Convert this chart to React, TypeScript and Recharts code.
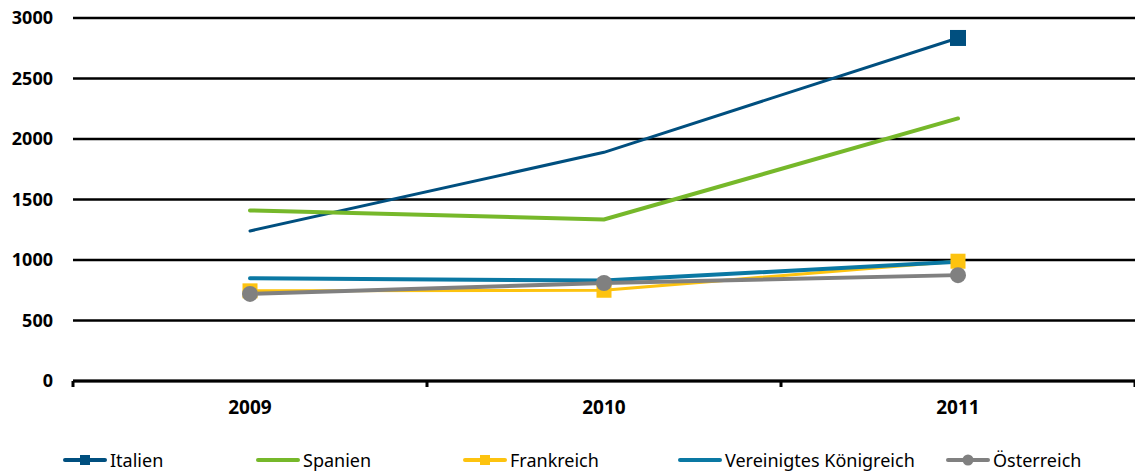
import React from 'react';
import { LineChart, Line, XAxis, YAxis, CartesianGrid, Legend } from 'recharts';

const years = ['2009', '2010', '2011'];
const italien = [1240, 1890, 2835];
const spanien = [1410, 1335, 2170];
const frankreich = [745, 750, 990];
const vereinigtesKoenigreich = [850, 830, 985];
const oesterreich = [720, 810, 875];
const yTicks = [0, 500, 1000, 1500, 2000, 2500, 3000];

const data = years.map((y, i) => ({
  pos: i + 0.5,
  year: y,
  italien: italien[i],
  spanien: spanien[i],
  frankreich: frankreich[i],
  vk: vereinigtesKoenigreich[i],
  oesterreich: oesterreich[i],
}));

const xTicks = [0, 0.5, 1, 1.5, 2, 2.5, 3];

const series = [
  { key: 'italien', name: 'Italien', color: '#004f7f', width: 3, marker: 'square', left: 63 },
  { key: 'spanien', name: 'Spanien', color: '#76b82a', width: 4, marker: 'none', left: 256 },
  { key: 'frankreich', name: 'Frankreich', color: '#fdc30f', width: 3, marker: 'square', left: 463 },
  { key: 'vk', name: 'Vereinigtes Königreich', color: '#0a78a3', width: 4, marker: 'none', left: 678 },
  { key: 'oesterreich', name: 'Österreich', color: '#808080', width: 4, marker: 'circle', left: 946 },
];

const font = "'Noto Sans', 'Open Sans', sans-serif";

const XTick = (props: any) => {
  const { x, y, payload } = props;
  const v = payload.value;
  if (Number.isInteger(v)) {
    return <line x1={x} x2={x} y1={y} y2={y + 6} stroke="#000" strokeWidth={3} />;
  }
  return (
    <text x={x} y={y + 33} textAnchor="middle" fontFamily={font} fontWeight={700} fontSize={19} fill="#000">
      {years[Math.floor(v)]}
    </text>
  );
};

const SquareDot = (color: string, size: number, onlyLast: boolean) => (props: any) => {
  const { cx, cy, index } = props;
  if (onlyLast && index !== years.length - 1) return <g key={index} />;
  return <rect key={index} x={cx - size / 2} y={cy - size / 2} width={size} height={size} fill={color} />;
};

const CircleDot = (color: string) => (props: any) => {
  const { cx, cy, index } = props;
  return <circle key={index} cx={cx} cy={cy} r={8} fill={color} />;
};

const LegendContent = () => (
  <div style={{ position: 'relative', height: 45, fontFamily: font, fontSize: 18, color: '#000' }}>
    {series.map((s) => (
      <div
        key={s.key}
        style={{ position: 'absolute', left: s.left, top: 19, display: 'flex', alignItems: 'center', whiteSpace: 'nowrap' }}
      >
        <svg width={44} height={14} style={{ marginRight: 3 }}>
          <line x1={2} x2={42} y1={7} y2={7} stroke={s.color} strokeWidth={4} strokeLinecap="round" />
          {s.marker === 'square' && <rect x={17} y={2} width={10} height={10} fill={s.color} />}
          {s.marker === 'circle' && <circle cx={22} cy={7} r={5.5} fill={s.color} />}
        </svg>
        <span style={{ lineHeight: '20px' }}>{s.name}</span>
      </div>
    ))}
  </div>
);

export default function App() {
  return (
    <div style={{ position: 'absolute', left: 0, top: 0, background: '#fff' }}>
      <LineChart width={1135} height={476} data={data} margin={{ top: 18, right: 0, left: 0, bottom: 0 }}>
        <CartesianGrid horizontal vertical={false} stroke="#000" strokeWidth={2.5} />
        <XAxis
          dataKey="pos"
          type="number"
          domain={[0, 3]}
          ticks={xTicks}
          interval={0}
          height={50}
          axisLine={{ stroke: '#000', strokeWidth: 3 }}
          tickLine={false}
          tickSize={0}
          tickMargin={0}
          tick={<XTick />}
        />
        <YAxis
          width={73}
          domain={[0, 3000]}
          ticks={yTicks}
          interval={0}
          axisLine={false}
          tickLine={false}
          tickSize={0}
          tickMargin={20}
          tick={{ fill: '#000', fontFamily: font, fontWeight: 700, fontSize: 18 }}
        />
        <Legend verticalAlign="bottom" height={45} content={<LegendContent />} />
        {series.map((s) => (
          <Line
            key={s.key}
            type="linear"
            dataKey={s.key}
            name={s.name}
            stroke={s.color}
            strokeWidth={s.width}
            strokeLinecap="round"
            isAnimationActive={false}
            activeDot={false}
            dot={
              s.key === 'italien'
                ? SquareDot(s.color, 16, true)
                : s.key === 'frankreich'
                ? SquareDot(s.color, 15, false)
                : s.key === 'oesterreich'
                ? CircleDot(s.color)
                : false
            }
          />
        ))}
      </LineChart>
    </div>
  );
}
